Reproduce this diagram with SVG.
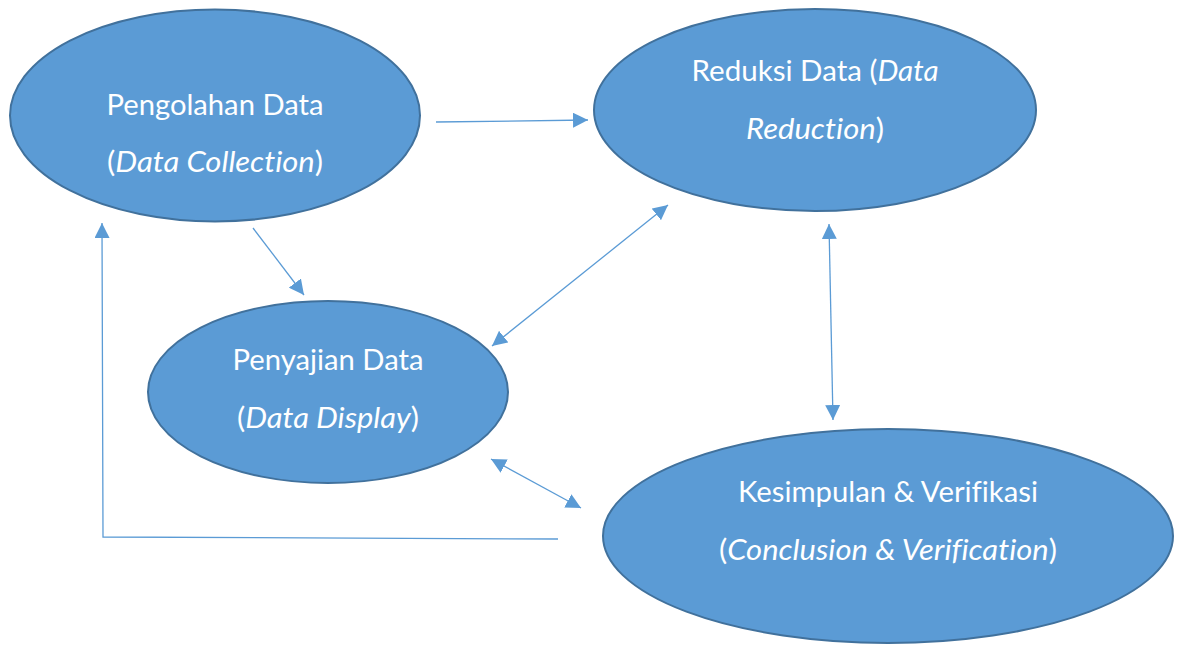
<svg xmlns="http://www.w3.org/2000/svg" width="1186" height="645" viewBox="0 0 1186 645">
<style>
.node ellipse{fill:#5B9BD5;stroke:#41719C;stroke-width:2}
.node text{font-family:Lato,"Liberation Sans",sans-serif;font-size:29px;fill:#FFFFFF;text-anchor:middle;font-variant-ligatures:none}
.it{font-style:italic}
.conn{fill:none;stroke:#5B9BD5;stroke-width:1.3}
</style>
<defs>
<marker id="ah" markerUnits="userSpaceOnUse" markerWidth="15" markerHeight="15" viewBox="0 0 15 15" refX="15" refY="7.5" orient="auto-start-reverse">
<path d="M0,0 L15,7.5 L0,15 z" fill="#5B9BD5"/>
</marker>
</defs>
<rect width="1186" height="645" fill="#FFFFFF"/>
<g id="connectors">
<line class="conn" x1="436" y1="122" x2="588" y2="120" marker-end="url(#ah)"/>
<line class="conn" x1="253" y1="228" x2="304" y2="295" marker-end="url(#ah)"/>
<line class="conn" x1="492" y1="346" x2="668" y2="205" marker-start="url(#ah)" marker-end="url(#ah)"/>
<line class="conn" x1="829" y1="224" x2="833" y2="420" marker-start="url(#ah)" marker-end="url(#ah)"/>
<line class="conn" x1="491" y1="459" x2="581" y2="508" marker-start="url(#ah)" marker-end="url(#ah)"/>
<polyline class="conn" points="558,539 103,537 102,223" marker-end="url(#ah)"/>
</g>
<g id="pengolahan" class="node">
<ellipse cx="215" cy="115.5" rx="205" ry="106"/>
<text x="215" y="115" textLength="217" lengthAdjust="spacingAndGlyphs">Pengolahan Data</text>
<text x="215" y="172" textLength="216" lengthAdjust="spacingAndGlyphs">(<tspan class="it">Data Collection</tspan>)</text>
</g>
<g id="reduksi" class="node">
<ellipse cx="815" cy="110" rx="221" ry="101"/>
<text x="815" y="81" textLength="247" lengthAdjust="spacingAndGlyphs">Reduksi Data (<tspan class="it">Data</tspan></text>
<text x="815" y="139" textLength="138" lengthAdjust="spacingAndGlyphs"><tspan class="it">Reduction</tspan>)</text>
</g>
<g id="penyajian" class="node">
<ellipse cx="328" cy="392" rx="180" ry="91"/>
<text x="328" y="370" textLength="191" lengthAdjust="spacingAndGlyphs">Penyajian Data</text>
<text x="328" y="428" textLength="182" lengthAdjust="spacingAndGlyphs">(<tspan class="it">Data Display</tspan>)</text>
</g>
<g id="kesimpulan" class="node">
<ellipse cx="888" cy="536" rx="285" ry="107"/>
<text x="888" y="502" textLength="300" lengthAdjust="spacingAndGlyphs">Kesimpulan &amp; Verifikasi</text>
<text x="888" y="560" textLength="338" lengthAdjust="spacingAndGlyphs">(<tspan class="it">Conclusion &amp; Verification</tspan>)</text>
</g>
</svg>
